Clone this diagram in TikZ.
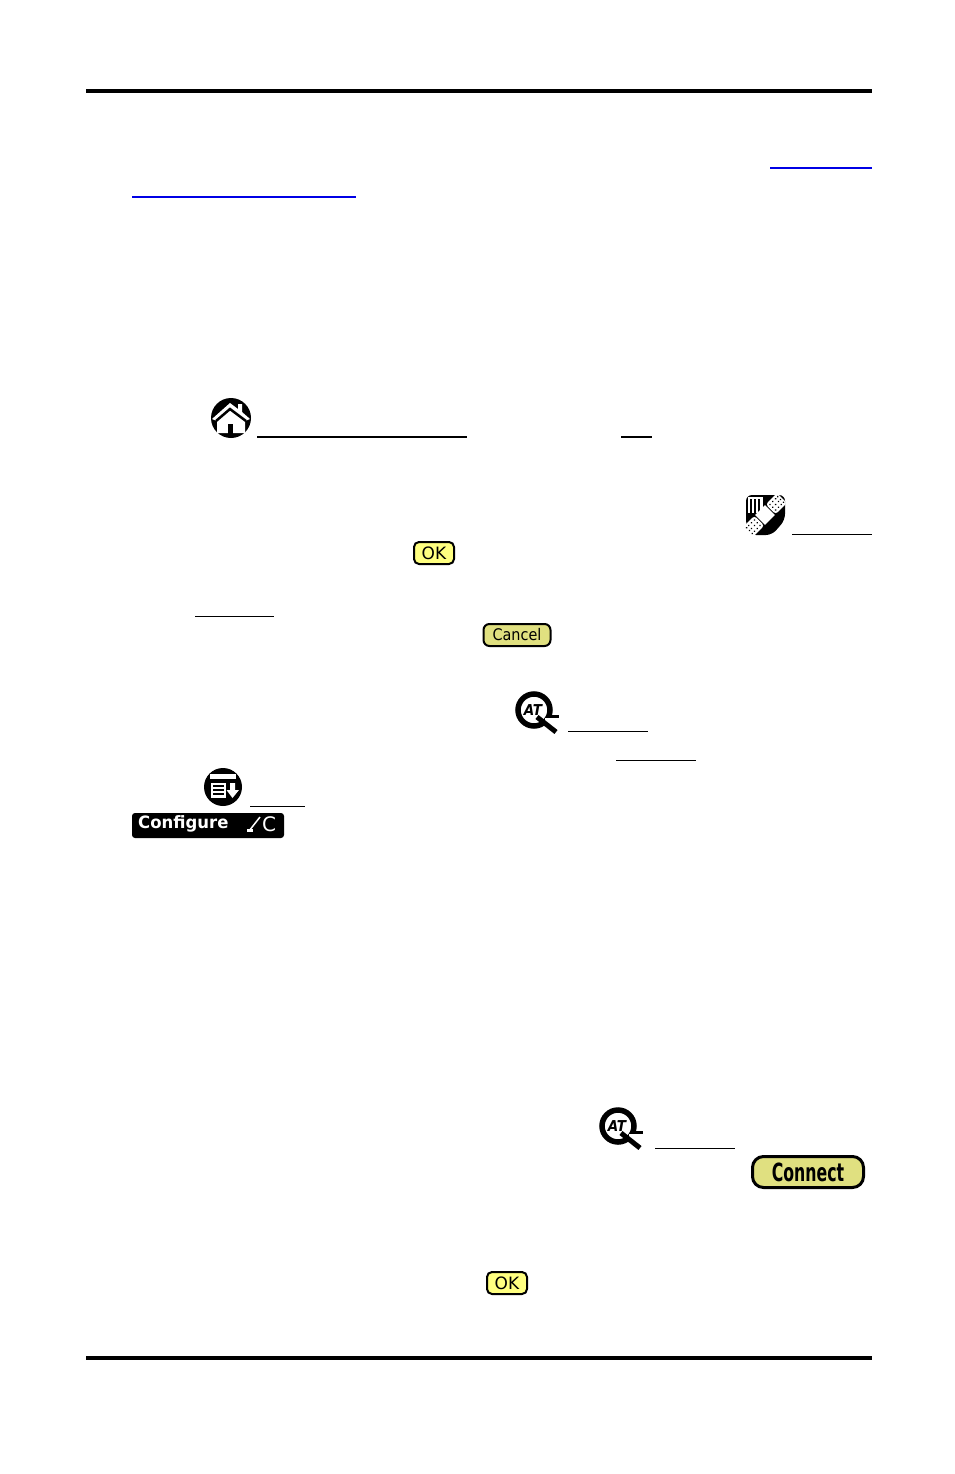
\documentclass[tikz,border=0pt]{standalone}
\usepackage{fontspec}
\setmainfont{DejaVu Sans}
\usetikzlibrary{backgrounds}
\definecolor{btnlight}{RGB}{255,255,128}
\definecolor{btndark}{RGB}{224,224,128}
\tikzstyle{rule}=[line width=4pt, black]
\tikzstyle{link}=[line width=1.2pt, blue!90!black]
\tikzstyle{under}=[line width=1pt, black]
\tikzstyle{okbtn}=[draw, line width=2pt, fill=btnlight, rounded corners=5pt, minimum width=40pt, minimum height=22pt, inner sep=0pt, font=\fontsize{17}{17}\selectfont]
\tikzstyle{cancelbtn}=[okbtn, fill=btndark, rounded corners=6pt, minimum width=67pt, font=\fontsize{16}{16}\selectfont]
\tikzstyle{connectbtn}=[okbtn, fill=btndark, line width=3pt, rounded corners=11pt, minimum width=111pt, minimum height=31pt]
\tikzstyle{icontext}=[inner sep=0pt, font=\bfseries\itshape\fontsize{15}{15}\selectfont]
\tikzstyle{barbox}=[fill=black, rounded corners=3pt, minimum width=152pt, minimum height=25pt, inner sep=0pt]
\tikzstyle{bartext}=[white, inner sep=0pt, font=\bfseries\fontsize{17}{17}\selectfont]
\tikzset{
	aticon/.pic={
		\draw[line width=5.5pt] (-2,-3) circle (16);
		\fill[white] (9,5) rectangle (17,13);
		\draw[line width=5pt] (1,4) -- (20,19);
		\draw[line width=3pt] (11,3) -- (23,3);
		\node[icontext] (-at) at (-3,-3) {\addfontfeatures{FakeStretch=0.9}AT};
	}
}
\begin{document}
\begin{tikzpicture}[x=1pt, y=-1pt]
	\useasboundingbox (0,0) rectangle (954,1474);
	% page rules
	\draw[rule] (86,91) -- (872,91);
	\draw[rule] (86,1358) -- (872,1358);
	% links and underlines
	\draw[link] (770,168) -- (872,168);
	\draw[link] (132,197) -- (356,197);
	\draw[under, line width=2pt] (257,437) -- (467,437);
	\draw[under, line width=2pt] (621,437) -- (652,437);
	\draw[under] (792,534) -- (872,534);
	\draw[under] (195,616) -- (274,616);
	\draw[under] (568,731) -- (648,731);
	\draw[under] (616,760) -- (696,760);
	\draw[under] (250,806) -- (305,806);
	\draw[under] (655,1148) -- (735,1148);
	% home icon
	\fill (231,418) circle (20);
	\fill[white] (230,403) -- (238,409) -- (238,404) -- (242,404) -- (242,412) -- (250,419) -- (245,421) -- (245,433) -- (217,433) -- (217,421) -- (212,419) -- cycle;
	\draw[line width=2.5pt] (216,421) -- (230,409) -- (246,421);
	\fill (228,424) rectangle (233,437);
	% patch icon
	\fill[rounded corners=6pt] (746,495) -- (785,495) -- (785,520) -- (772,535) -- (750,535) -- (746,525) -- cycle;
	\fill[white] (748,497) rectangle (763,513);
	\foreach \x in {751,755,759}
		\draw[line width=1.5pt] (\x,499) -- (\x,513);
	\begin{scope}[shift={(765,515)}, rotate=-45]
		\fill[white] (-7,-7) rectangle (7,7);
		\foreach \s in {-1,1} {
			\fill[white, rounded corners=3pt] (-7,{\s*8}) rectangle (7,{\s*24});
			\foreach \a in {-4,0,4}
				\foreach \b in {11,15,19,22}
					\fill (\a,{\s*\b}) circle (0.9);
		}
	\end{scope}
	% buttons
	\node[okbtn] (ok1) at (434,553) {OK};
	\node[cancelbtn] (cancel) at (517,635) {\addfontfeatures{FakeStretch=0.9}Cancel};
	\node[okbtn] (ok2) at (507,1283) {OK};
	\node[connectbtn, font=\bfseries\fontsize{25}{25}\selectfont] (connect) at (808,1172) {\addfontfeatures{FakeStretch=0.63}Connect};
	% at icons
	\pic (at1) at (536,713) {aticon};
	\pic (at2) at (620,1129) {aticon};
	% menu icon
	\fill (223,787) circle (19);
	\fill[white] (210,774) rectangle (236,779);
	\fill[white] (211,783) rectangle (226,798);
	\foreach \y in {786,790,794}
		\draw[line width=1.3pt] (213,\y) -- (224,\y);
	\fill[white] (230,783) rectangle (235,790) -- (239,790) -- (232.5,798) -- (226.5,790) -- (230,790) -- cycle;
	% configure bar
	\node[barbox] (bar) at (208,825.5) {};
	\node[bartext, anchor=west] (cfg) at (138,824) {\addfontfeatures{FakeStretch=0.97}Configure};
	\node[white, inner sep=0pt, anchor=west, font=\fontsize{20}{20}\selectfont] (cmd) at (262,824) {C};
	\draw[white, line width=1.5pt] (249,831) -- (260,817);
	\draw[white, line width=3pt] (247,830) -- (253,830);
\end{tikzpicture}
\end{document}
